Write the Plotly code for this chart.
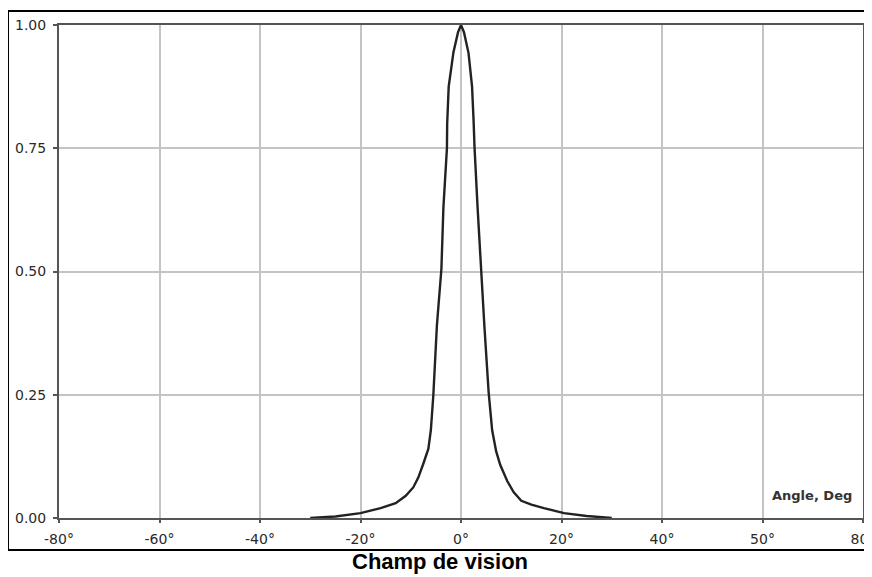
import plotly.graph_objects as go

# Data
angles = [-30, -25, -20, -16, -13, -11, -9.5, -8.5, -7.5, -6.5, -6, -5.5, -4.8, -3.9, -3.5,
          -2.8, -2.75, -2.45, -1.5, -0.6, 0, 0.6, 1.5, 2.2, 2.5, 2.7, 3.3, 3.95, 4.65, 5.5,
          6.2, 7.0, 7.8, 9.2, 10.5, 12, 14, 16.5, 20.5, 25, 30]
values = [0.0, 0.003, 0.010, 0.020, 0.030, 0.045, 0.062, 0.082, 0.110, 0.140, 0.178, 0.25,
          0.39, 0.505, 0.63, 0.75, 0.80, 0.875, 0.945, 0.985, 1.0, 0.985, 0.943, 0.875, 0.807,
          0.75, 0.63, 0.505, 0.39, 0.255, 0.178, 0.135, 0.108, 0.075, 0.052, 0.035, 0.027,
          0.020, 0.010, 0.004, 0.0]

x_tickvals = [-80, -60, -40, -20, 0, 20, 40, 60, 80]
x_ticktext = ["-80°", "-60°", "-40°", "-20°", "0°", "20°", "40°", "50°", "80°"]
y_tickvals = [0, 0.25, 0.5, 0.75, 1.0]
y_ticktext = ["0.00", "0.25", "0.50", "0.75", "1.00"]

title_text = "Champ de vision"
axis_label = "Angle, Deg"

# page has an 8px body margin; figure coordinates are page coordinates minus 8
OFF = 8
W, H = 864, 569
L, R, T, B = 51, 9, 17, 59
pw, ph = W - L - R, H - T - B

def px2x(px):
    return (px - OFF - L) / pw

def py2y(py):
    return (H - B - (py - OFF)) / ph

fig = go.Figure()
fig.add_trace(go.Scatter(x=angles, y=values, mode="lines",
                         line=dict(color="#222222", width=2.4),
                         hoverinfo="skip", showlegend=False))

tick_font = dict(family="DejaVu Sans", size=14, color="#2a2a2a")

fig.update_xaxes(range=[-80, 80], tickvals=x_tickvals, ticktext=x_ticktext,
                 showgrid=True, gridcolor="#c4c4c4", gridwidth=1.5,
                 showline=True, linecolor="#555555", linewidth=2, mirror=True,
                 ticks="outside", ticklen=3, tickwidth=2, tickcolor="#555555",
                 ticklabelstandoff=4, ticklabeloverflow="allow", automargin=False,
                 tickfont=tick_font, zeroline=False, fixedrange=True)
fig.update_yaxes(range=[0, 1], tickvals=y_tickvals, ticktext=y_ticktext,
                 showgrid=True, gridcolor="#c4c4c4", gridwidth=1.5,
                 showline=True, linecolor="#555555", linewidth=2, mirror=True,
                 ticks="outside", ticklen=4, tickwidth=2, tickcolor="#555555",
                 ticklabelstandoff=4, ticklabeloverflow="allow", automargin=False,
                 tickfont=tick_font, zeroline=False, fixedrange=True)

fig.add_shape(type="rect", xref="paper", yref="paper",
              x0=px2x(8), x1=px2x(890), y0=py2y(550), y1=py2y(11),
              line=dict(color="black", width=2), fillcolor="rgba(0,0,0,0)", layer="above")

fig.add_annotation(xref="paper", yref="paper", x=px2x(854), y=py2y(495.5),
                   text=axis_label, showarrow=False, xanchor="right", yanchor="middle",
                   font=dict(family="DejaVu Sans", size=13, color="#333333", weight="bold"))
fig.add_annotation(xref="paper", yref="paper", x=px2x(440), y=py2y(561),
                   text="<b>" + title_text + "</b>", showarrow=False,
                   xanchor="center", yanchor="middle",
                   font=dict(family="Liberation Sans", size=22, color="black"))

fig.update_layout(width=W, height=H, margin=dict(l=L, r=R, t=T, b=B, autoexpand=False),
                  paper_bgcolor="white", plot_bgcolor="white")

fig.write_html("out.html")
